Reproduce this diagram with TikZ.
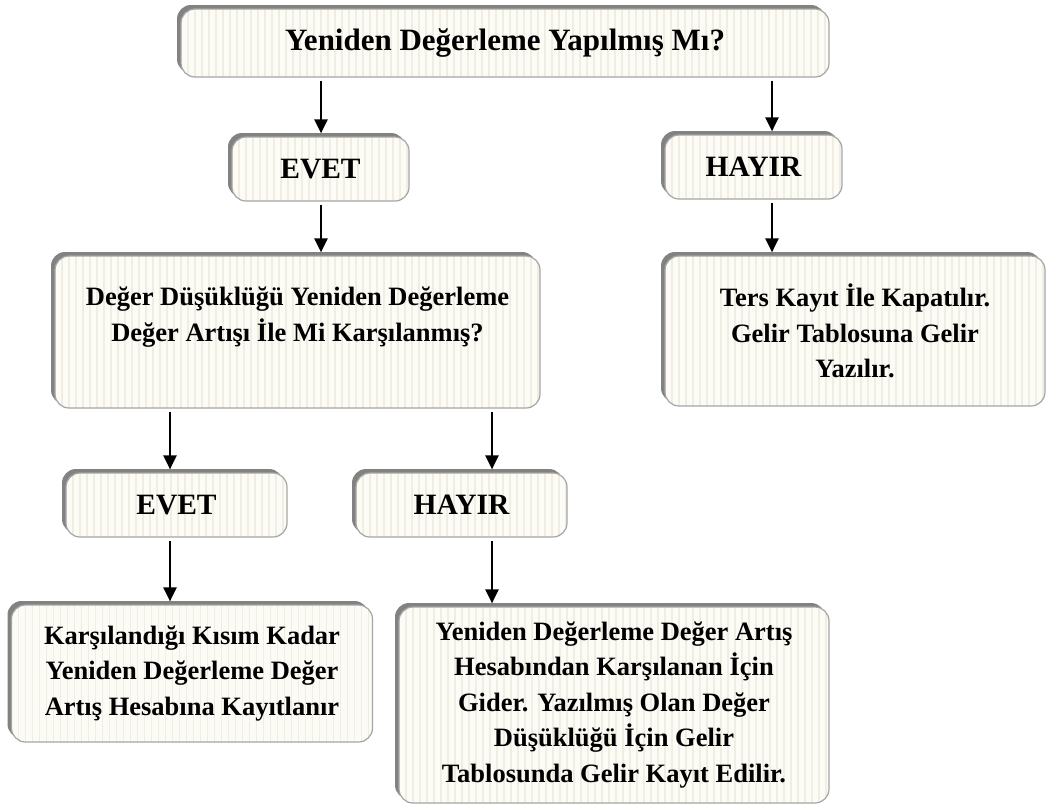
\documentclass[tikz,border=0pt]{standalone}
\usepackage{fontspec}
\setmainfont{Liberation Serif}
\usetikzlibrary{calc}
\usetikzlibrary{arrows.meta}
\usetikzlibrary{shadows}

\definecolor{zemin}{RGB}{252,251,245}
\definecolor{serit}{RGB}{240,238,226}
\definecolor{kenar}{RGB}{165,165,165}
\definecolor{golge}{RGB}{130,130,130}

\begin{document}
\begin{tikzpicture}[x=1pt,y=-1pt,>={Triangle[length=14pt,width=13pt]},
    kutu/.style={draw=kenar, line width=1.2pt, fill=zemin, rounded corners=14pt,
      general shadow={fill=golge, shadow xshift=-4pt, shadow yshift=4pt},
      path picture={\foreach \i in {0,7,...,660}
        \draw[serit, line width=1.8pt] ([xshift=\i pt]path picture bounding box.south west)
          -- ([xshift=\i pt]path picture bounding box.north west);},
      font=\fontsize{26.5}{35.5}\selectfont\bfseries, align=center, inner sep=0pt},
    etiket/.style={kutu, font=\fontsize{29.5}{35.5}\selectfont\bfseries},
    ok/.style={->, line width=2.4pt, shorten <=3pt, shorten >=3pt}]
      \useasboundingbox (0,0) rectangle (1046,809);

      % arrow columns
      \coordinate (s1) at (321,0);
      \coordinate (s2) at (772,0);
      \coordinate (s3) at (170,0);
      \coordinate (s4) at (492,0);

      \node[kutu, minimum width=648pt, minimum height=68pt,
        font=\fontsize{31}{35.5}\selectfont\bfseries] (soru) at (505,43)
        {Yeniden Değerleme Yapılmış Mı?};

      \node[etiket, minimum width=177pt, minimum height=64pt] (evet1) at (320.5,169) {EVET};
      \node[etiket, minimum width=177pt, minimum height=64pt] (hayir1) at (753.5,167) {HAYIR};

      \node[kutu, minimum width=485pt, minimum height=152pt] (karsi) at (297.5,332)
        {Değer Düşüklüğü Yeniden Değerleme\\Değer Artışı İle Mi Karşılanmış?\\ \mbox{}};
      \node[kutu, minimum width=380pt, minimum height=150pt] (ters) at (855,331)
        {Ters Kayıt İle Kapatılır.\\Gelir Tablosuna Gelir\\Yazılır.};

      \node[etiket, minimum width=221pt, minimum height=64pt] (evet2) at (176.5,505) {EVET};
      \node[etiket, minimum width=211pt, minimum height=64pt] (hayir2) at (461.5,505) {HAYIR};

      \node[kutu, minimum width=361pt, minimum height=137pt] (sol) at (192,673.5)
        {Karşılandığı Kısım Kadar\\Yeniden Değerleme Değer\\Artış Hesabına Kayıtlanır};
      \node[kutu, minimum width=430pt, minimum height=196pt] (sag) at (614,705)
        {Yeniden Değerleme Değer Artış\\Hesabından Karşılanan İçin\\Gider. Yazılmış Olan Değer\\Düşüklüğü İçin Gelir\\Tablosunda Gelir Kayıt Edilir.};

      \draw[ok] (soru.south -| s1) -- (evet1.north -| s1);
      \draw[ok] (soru.south -| s2) -- (hayir1.north -| s2);
      \draw[ok] (evet1.south -| s1) -- (karsi.north -| s1);
      \draw[ok] (hayir1.south -| s2) -- (ters.north -| s2);
      \draw[ok] (karsi.south -| s3) -- (evet2.north -| s3);
      \draw[ok] (karsi.south -| s4) -- (hayir2.north -| s4);
      \draw[ok] (evet2.south -| s3) -- (sol.north -| s3);
      \draw[ok] (hayir2.south -| s4) -- (sag.north -| s4);
    \end{tikzpicture}
\end{document}
